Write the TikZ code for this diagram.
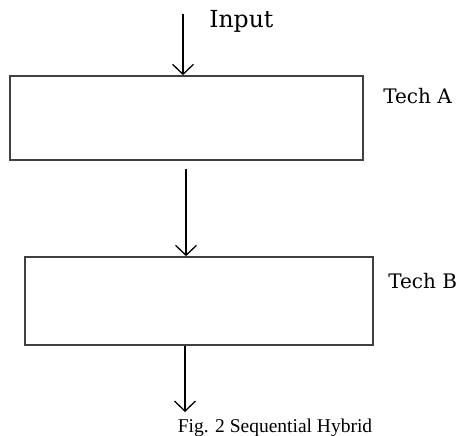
\documentclass[tikz,border=0pt]{standalone}
\usepackage{fontspec}
\setmainfont{Liberation Serif}
\newfontfamily\labelfont{DejaVu Serif}
\usetikzlibrary{arrows.meta,positioning}

\begin{document}
\begin{tikzpicture}
[x=1pt, y=-1pt, >={Straight Barb[length=10pt,width=21pt,line width=1.3pt]},
semithick,
techbox/.style={draw=black!75, line width=1.6pt, rectangle, inner sep=0pt},
flow/.style={->, line width=1.2pt},
lbl/.style={anchor=base west, inner sep=0pt, font=\labelfont\fontsize{20}{24}\selectfont}
]
  \useasboundingbox (0,0) rectangle (461,436);
  \node[techbox, minimum width=353pt, minimum height=84pt] (techA) at (186.5,118) {};
  \node[techbox, minimum width=348pt, minimum height=88pt] (techB) at (199,301) {};
  \node[lbl, font=\labelfont\fontsize{23.5}{26}\selectfont] (inputlbl) at (209,28) {Input};
  \node[lbl] (techAlbl) at (383,103) {Tech A};
  \node[lbl] (techBlbl) at (388,288) {Tech B};
  \node[anchor=base, font=\fontsize{19.5}{22}\selectfont] (caption) at (275,432) {Fig. 2 Sequential Hybrid};

  \coordinate (in) at (183,14);
  \coordinate (out) at (185,412);

  \draw[flow] (in) -- (in |- techA.north);
  \draw[flow] ([xshift=-0.5pt, yshift=-8pt]techA.south) -- ([xshift=-13pt]techB.north);
  \draw[flow] ([xshift=-14pt]techB.south) -- (out);
\end{tikzpicture}
\end{document}
